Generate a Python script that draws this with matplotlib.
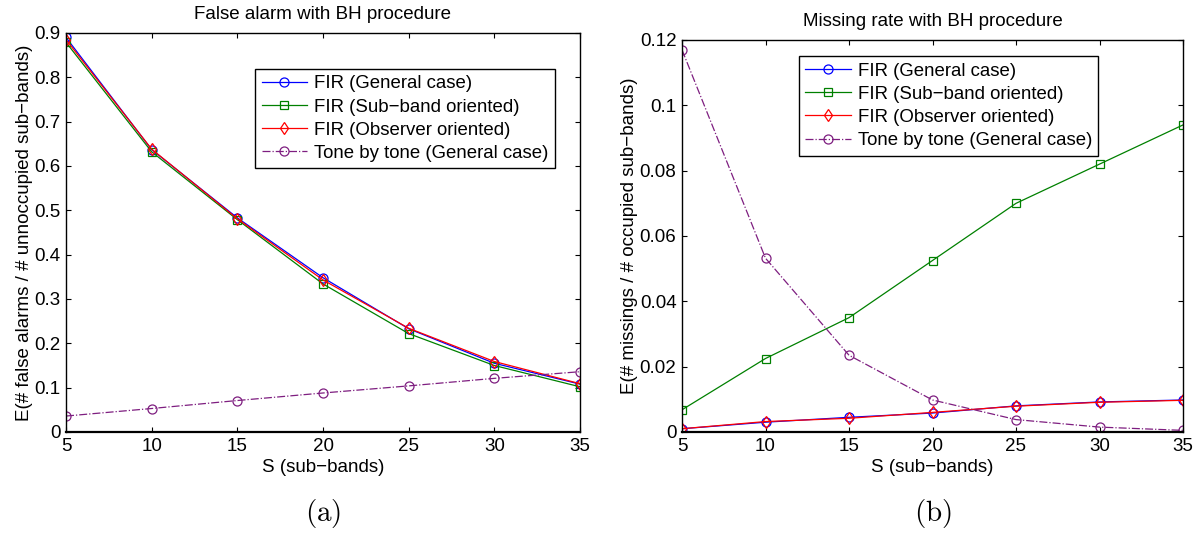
import numpy as np
import matplotlib
matplotlib.use('Agg')
import matplotlib.pyplot as plt

# 数据
S = [5, 10, 15, 20, 25, 30, 35]

# (a) 虚警率
fa_general = [0.890, 0.637, 0.483, 0.348, 0.233, 0.155, 0.108]
fa_subband = [0.879, 0.632, 0.479, 0.334, 0.222, 0.150, 0.102]
fa_observer = [0.885, 0.638, 0.481, 0.343, 0.234, 0.159, 0.109]
fa_tone = [0.036, 0.053, 0.071, 0.088, 0.104, 0.121, 0.136]

# (b) 漏检率
miss_general = [0.0010, 0.0030, 0.0045, 0.0058, 0.0080, 0.0092, 0.0098]
miss_subband = [0.0068, 0.0225, 0.0350, 0.0525, 0.0700, 0.0820, 0.0940]
miss_observer = [0.0010, 0.0032, 0.0042, 0.0060, 0.0079, 0.0091, 0.0097]
miss_tone = [0.1170, 0.0532, 0.0235, 0.0098, 0.0038, 0.0015, 0.0005]

labels = ['FIR (General case)', 'FIR (Sub\u2212band oriented)',
          'FIR (Observer oriented)', 'Tone by tone (General case)']

plt.rcParams['font.family'] = ['Liberation Sans', 'DejaVu Sans']
plt.rcParams['mathtext.fontset'] = 'cm'


def draw(ax, series, yticks, yticklabels, title, ylabel, leg_anchor):
    styles = [('b', 'o', '-'), ('g', 's', '-'), ('r', 'd', '-'), ('#7e1e80', 'o', '-.')]
    for y, (c, m, ls), lab in zip(series, styles, labels):
        ax.plot(S, y, color=c, marker=m, linestyle=ls, linewidth=0.9,
                markersize=6.5 if m != 's' else 5.5, markerfacecolor='none',
                markeredgecolor=c, markeredgewidth=0.9, label=lab)
    ax.set_xlim(5, 35)
    ax.set_ylim(yticks[0], yticks[-1])
    ax.set_xticks(S)
    ax.set_yticks(yticks)
    ax.set_yticklabels(yticklabels)
    ax.tick_params(direction='in', top=True, right=True, labelsize=13.5, length=3.5, pad=4)
    for sp in ax.spines.values():
        sp.set_linewidth(1.0)
    ax.spines['bottom'].set_linewidth(1.6)
    ax.set_title(title, fontsize=13.5, pad=10)
    ax.set_xlabel('S (sub\u2212bands)', fontsize=13.5, labelpad=3)
    ax.set_ylabel(ylabel, fontsize=13.5, labelpad=1)
    leg = ax.legend(loc='upper left', bbox_to_anchor=leg_anchor, fontsize=13.4,
                    fancybox=False, framealpha=1, edgecolor='black',
                    handlelength=2.45, handletextpad=0.35, labelspacing=0.33,
                    borderpad=0.35, borderaxespad=0)
    leg.get_frame().set_linewidth(1.0)


fig = plt.figure(figsize=(12.04, 5.33), dpi=100)

ax1 = fig.add_axes([66 / 1204, 1 - 432 / 533, 514 / 1204, 399 / 533])
draw(ax1, [fa_general, fa_subband, fa_observer, fa_tone],
     np.arange(0, 0.91, 0.1), ['0', '0.1', '0.2', '0.3', '0.4', '0.5', '0.6', '0.7', '0.8', '0.9'],
     'False alarm with BH procedure',
     'E(# false alarms / # unnoccupied sub\u2212bands)', (0.368, 0.91))

ax2 = fig.add_axes([682 / 1204, 1 - 432 / 533, 501 / 1204, 392 / 533])
draw(ax2, [miss_general, miss_subband, miss_observer, miss_tone],
     np.arange(0, 0.121, 0.02), ['0', '0.02', '0.04', '0.06', '0.08', '0.1', '0.12'],
     'Missing rate with BH procedure',
     'E(# missings / # occupied sub\u2212bands)', (0.2335, 0.959))

fig.text(0.2685, 1 - 514 / 533, r'$\mathrm{(a)}$', ha='center', va='center', fontsize=21)
fig.text(0.7745, 1 - 514 / 533, r'$\mathrm{(b)}$', ha='center', va='center', fontsize=21)

fig.savefig('out.png', dpi=100)
